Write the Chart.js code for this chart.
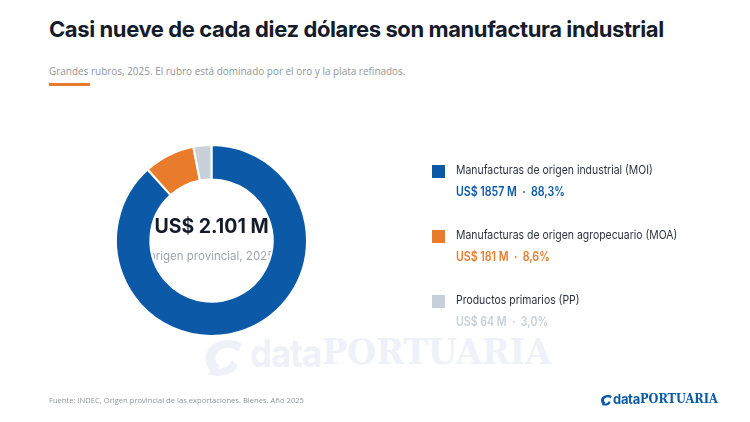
<!DOCTYPE html>
<html><head><meta charset="utf-8">
<script src="https://cdn.jsdelivr.net/npm/chart.js@4.4.1/dist/chart.umd.min.js"></script>
<style>
html,body{margin:0;padding:0;background:#fff;}
#wrap{position:relative;width:750px;height:422px;overflow:hidden;font-family:Inter,"Open Sans",sans-serif;}
#title{position:absolute;left:49px;top:16px;font-size:22px;font-weight:700;color:#141c2b;letter-spacing:-0.4px;white-space:nowrap;}
#sub{position:absolute;left:49px;top:63px;font-size:11px;color:#8f959d;white-space:nowrap;font-family:"Open Sans",sans-serif;transform:scaleX(0.905);transform-origin:0 0;}
#bar{position:absolute;left:49px;top:83px;width:41px;height:3px;background:#e87b2c;}
#wm{position:absolute;left:202px;top:330px;white-space:nowrap;color:#eef2f8;}
#wm svg{position:absolute;left:0;top:8px;}
#wm .d{position:absolute;left:48px;top:0;font-family:Inter,sans-serif;font-weight:700;font-size:38px;transform:scaleX(0.91);transform-origin:0 0;letter-spacing:-1px;}
#wm .p{position:absolute;left:120px;top:0;font-family:"DejaVu Serif Condensed","DejaVu Serif",serif;font-weight:700;font-size:36px;transform:scaleX(1.03);transform-origin:0 0;}
#foot{position:absolute;left:49px;top:394px;font-size:8px;color:#8f959d;white-space:nowrap;font-family:"Open Sans",sans-serif;transform:scaleX(0.95);transform-origin:0 0;}
#logo{position:absolute;left:600px;top:391px;height:18px;width:130px;color:#0b59a7;white-space:nowrap;}
#logo svg{position:absolute;left:0;top:3px;}
#logo .d{position:absolute;left:13px;top:0;font-family:Inter,sans-serif;font-weight:700;font-size:13.5px;transform:scaleX(0.96);transform-origin:0 0;letter-spacing:-0.3px;}
#logo .p{position:absolute;left:40px;top:0;font-family:"DejaVu Serif Condensed","DejaVu Serif",serif;font-weight:700;font-size:13px;transform:scaleX(0.97);transform-origin:0 0;}
#c{position:absolute;left:0;top:0;}
.lg{position:absolute;left:432px;white-space:nowrap;}
.lg .sq{position:absolute;left:0;top:3px;width:13px;height:13px;}
.lg .nm{position:absolute;left:24px;top:0;font-size:12px;color:#2a3140;transform:scaleX(0.87);transform-origin:0 0;}
.lg .vl{position:absolute;left:24px;top:22px;font-size:12.5px;font-weight:600;transform:scaleX(0.85);transform-origin:0 0;}
</style></head>
<body><div id="wrap">
<div id="title">Casi nueve de cada diez dólares son manufactura industrial</div>
<div id="sub">Grandes rubros, 2025. El rubro está dominado por el oro y la plata refinados.</div>
<div id="bar"></div>
<div id="wm">
<svg width="44" height="38" viewBox="0 0 44 38"><path d="M40 6 C30 -2 8 2 4 16 C2 24 6 32 12 36 L18 28 C12 24 12 16 18 12 C24 8 32 10 36 14 Z" fill="#eef2f8"/><path d="M6 36 C16 40 30 38 36 28 L30 22 C26 30 18 32 12 30 Z" fill="#eef2f8"/></svg>
<span class="d">data</span><span class="p">PORTUARIA</span></div>
<canvas id="c" width="750" height="422"></canvas>
<div id="legend"></div>
<div id="foot">Fuente: INDEC, Origen provincial de las exportaciones. Bienes. Año 2025</div>
<div id="logo">
<svg width="13" height="12" viewBox="0 0 44 38"><path d="M40 6 C30 -2 8 2 4 16 C2 24 6 32 12 36 L18 28 C12 24 12 16 18 12 C24 8 32 10 36 14 Z" fill="#0b59a7"/><path d="M6 36 C16 40 30 38 36 28 L30 22 C26 30 18 32 12 30 Z" fill="#0b59a7"/></svg>
<span class="d">data</span><span class="p">PORTUARIA</span></div>
</div>
<script>
const categories = ["Manufacturas de origen industrial (MOI)","Manufacturas de origen agropecuario (MOA)","Productos primarios (PP)"];
const values = [1857, 181, 64];
const percents = ["88,3%","8,6%","3,0%"];
const colors = ["#0b59a7","#e87b2c","#c8d0da"];
const totalLabel = "US$ 2.101 M";
const totalSub = "origen provincial, 2025";

const lg = document.getElementById('legend');
const tops = [162, 227, 292];
categories.forEach((c,i)=>{
  const d = document.createElement('div');
  d.className='lg'; d.style.top = tops[i]+'px';
  d.innerHTML = `<div class="sq" style="background:${colors[i]}"></div><div class="nm">${c}</div><div class="vl" style="color:${colors[i]}">US$ ${values[i]} M &nbsp;·&nbsp; ${percents[i]}</div>`;
  lg.appendChild(d);
});

const centerText = {
  id:'centerText',
  beforeDatasetsDraw(chart){
    const m = chart.getDatasetMeta(0).data[0];
    const ctx = chart.ctx;
    ctx.save();
    ctx.textAlign='center'; ctx.textBaseline='alphabetic';
    ctx.fillStyle='#141c2b';
    ctx.font='700 19.5px Inter';
    ctx.fillText(totalLabel, m.x, m.y-8);
    ctx.fillStyle='#a0a6ae';
    ctx.font='400 11.5px Inter';
    ctx.fillText(totalSub, m.x, m.y+19);
    ctx.restore();
  }
};

new Chart(document.getElementById('c'), {
  type:'doughnut',
  data:{labels:categories, datasets:[{data:values, backgroundColor:colors, borderColor:'#fff', borderWidth:2}]},
  options:{
    responsive:false, animation:false, cutout:'64%',
    layout:{padding:{left:115,top:144,right:442,bottom:85}},
    plugins:{legend:{display:false}, tooltip:{enabled:false}}
  },
  plugins:[centerText]
});
</script>
</body></html>
